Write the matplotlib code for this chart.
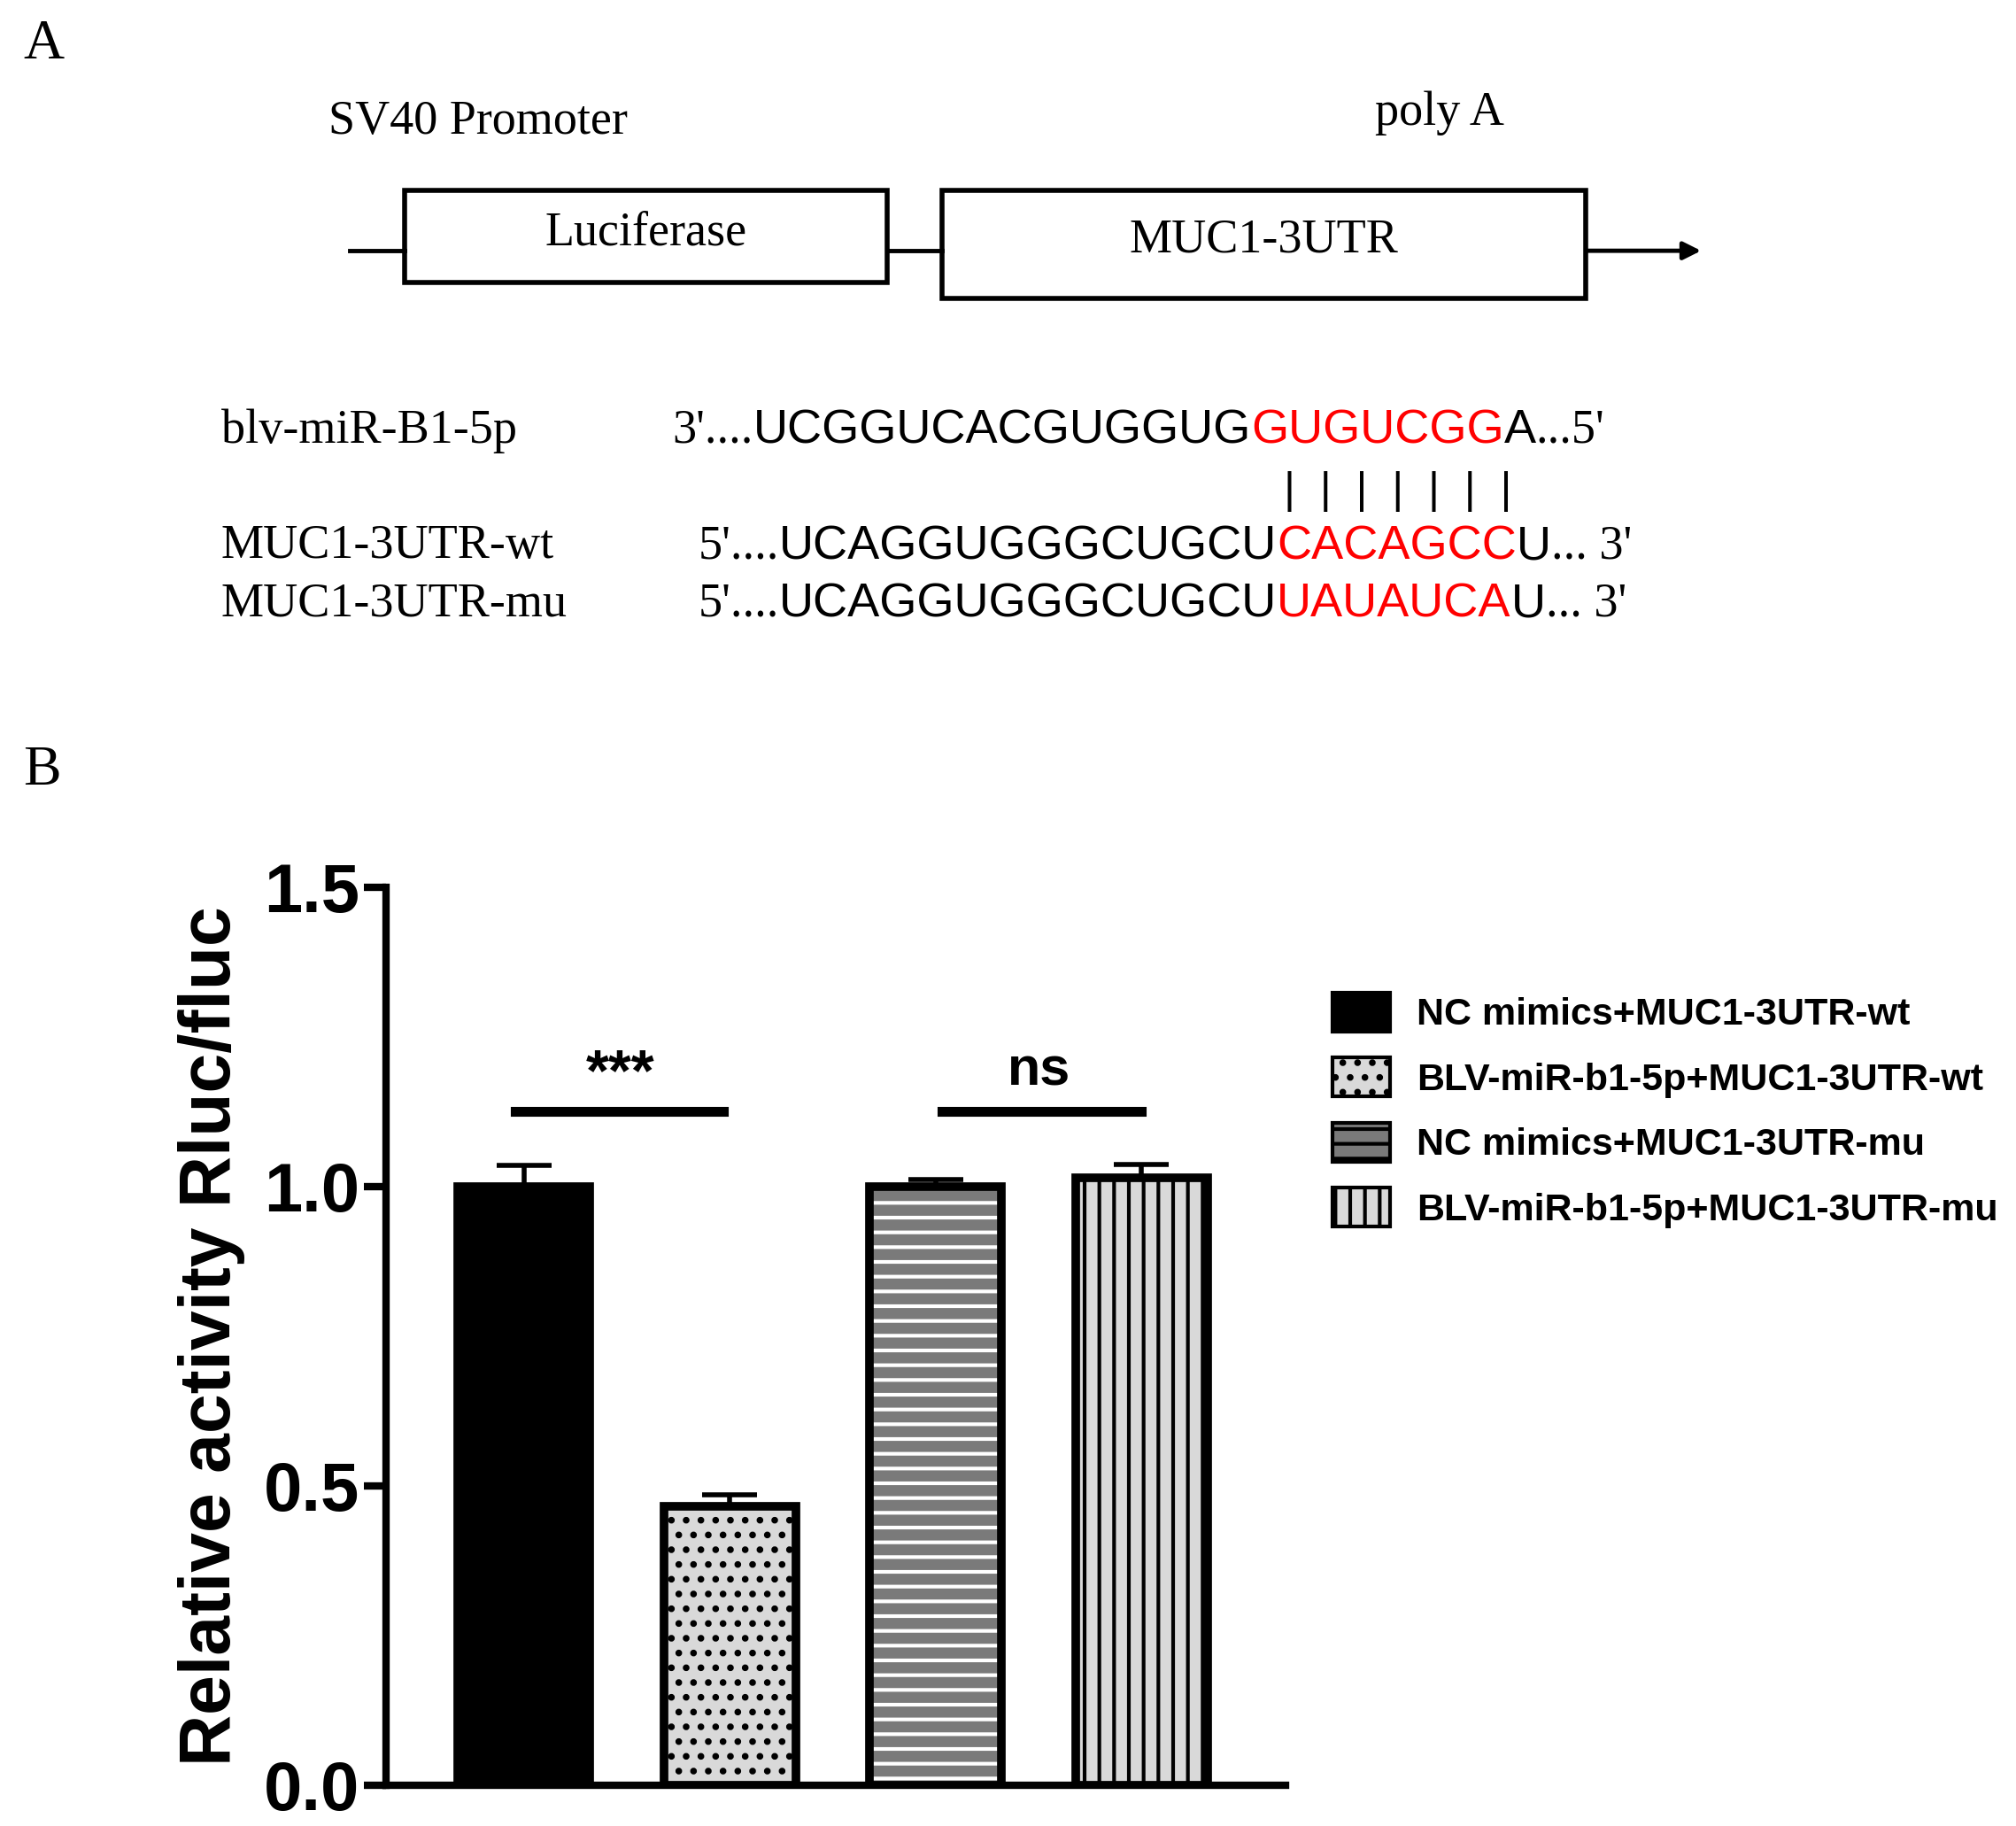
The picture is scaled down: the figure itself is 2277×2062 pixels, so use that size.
import matplotlib
matplotlib.use("Agg")
import matplotlib.pyplot as plt
from matplotlib.patches import Rectangle, FancyArrowPatch

W, H = 1568.0, 1420.0  # layout units (reference scaled)

groups = ["NC mimics+MUC1-3UTR-wt", "BLV-miR-b1-5p+MUC1-3UTR-wt",
          "NC mimics+MUC1-3UTR-mu", "BLV-miR-b1-5p+MUC1-3UTR-mu"]
values = [1.0, 0.465, 1.0, 1.015]
errors = [0.035, 0.02, 0.012, 0.022]
fills = ["black", "#d9d9d9", "#7a7a7a", "#d9d9d9"]
hatches = [None, ".", "-", "|"]
hatch_cols = ["black", "black", "white", "black"]
yticks = [0.0, 0.5, 1.0, 1.5]

seq_rows = [
    ("blv-miR-B1-5p", 335, 523, [("3'....", "k", "serif"), ("UCGGUCACGUGGUG", "k", "sans"),
                                ("GUGUCGG", "red", "sans"), ("A", "k", "sans"), ("...5'", "k", "serif")]),
    ("MUC1-3UTR-wt", 425, 543, [("5'....", "k", "serif"), ("UCAGGUGGGCUGCU", "k", "sans"),
                               ("CACAGCC", "red", "sans"), ("U", "k", "sans"), ("... 3'", "k", "serif")]),
    ("MUC1-3UTR-mu", 470, 543, [("5'....", "k", "serif"), ("UCAGGUGGGCUGCU", "k", "sans"),
                               ("UAUAUCA", "red", "sans"), ("U", "k", "sans"), ("... 3'", "k", "serif")]),
]

plt.rcParams["hatch.linewidth"] = 3
fig = plt.figure(figsize=(22.77, 20.62), dpi=100)
serif = "Liberation Serif"
sans = "Liberation Sans"

def fx(x): return x / W
def fy(y): return 1 - y / H

# panel A
fig.text(fx(18), fy(35), "A", fontsize=46, family=serif, va="center")
fig.text(fx(372), fy(95), "SV40 Promoter", fontsize=39, family=serif, ha="center", va="center")
fig.text(fx(1120), fy(88), "poly A", fontsize=39, family=serif, ha="center", va="center")
for x0, x1, y0, y1, lab in [(315, 690, 148, 220, "Luciferase"), (733, 1233, 148, 232, "MUC1-3UTR")]:
    fig.add_artist(Rectangle((fx(x0), fy(y1)), fx(x1 - x0), (y1 - y0) / H, fill=False,
                             lw=4, ec="black", transform=fig.transFigure))
    fig.text(fx((x0 + x1) / 2), fy((y0 + y1) / 2 - 3), lab, fontsize=39, family=serif,
             ha="center", va="center")
fig.add_artist(plt.Line2D([fx(272), fx(315)], [fy(195)] * 2, lw=3.5, color="k"))
fig.add_artist(plt.Line2D([fx(690), fx(733)], [fy(195)] * 2, lw=3.5, color="k"))
fig.add_artist(FancyArrowPatch((fx(1233), fy(195)), (fx(1325), fy(195)), transform=fig.transFigure,
                               arrowstyle="-|>", mutation_scale=30, lw=3.5, color="k"))

fig.canvas.draw()
r = fig.canvas.get_renderer()
for name, y, xs, parts in seq_rows:
    fig.text(fx(172), fy(y), name, fontsize=39, family=serif, va="center")
    x = fx(xs)
    for s, c, fam in parts:
        t = fig.text(x, fy(y), s, fontsize=39, color=c, family=serif if fam == "serif" else sans,
                     va="center")
        bb = t.get_window_extent(renderer=r)
        x += bb.width / fig.bbox.width
fig.text(fx(1087), fy(382), "|  |  |  |  |  |  |", fontsize=36, family=sans, ha="center", va="center")

# panel B
fig.text(fx(18), fy(600), "B", fontsize=46, family=serif, va="center")
ax = fig.add_axes([fx(300), fy(1388), fx(700), 698 / H])
xs = list(range(len(values)))
for i in xs:
    ax.bar(i, values[i], 0.64, color=fills[i], hatch=hatches[i], edgecolor=hatch_cols[i], lw=0, zorder=2)
    ax.bar(i, values[i], 0.64, fill=False, edgecolor="black", lw=7, zorder=3)
    ax.errorbar(i, values[i], yerr=[[0], [errors[i]]], color="black", capsize=22,
                capthick=4, elinewidth=4, zorder=1)
ax.set_xlim(-0.67, 3.7)
ax.set_ylim(0, 1.5)
ax.set_yticks(yticks)
ax.set_yticklabels([f"{v:.1f}" for v in yticks], fontsize=56, fontweight="bold", family=sans)
ax.set_xticks([])
for s in ["top", "right"]:
    ax.spines[s].set_visible(False)
for s in ["left", "bottom"]:
    ax.spines[s].set_linewidth(6)
ax.tick_params(axis="y", width=6, length=18)
ax.set_ylabel("Relative activity Rluc/fluc", fontsize=58, fontweight="bold", family=sans, labelpad=15)
ax.plot([-0.04, 0.97], [1.125, 1.125], color="k", lw=8, clip_on=False)
ax.plot([2.03, 3.0], [1.125, 1.125], color="k", lw=8, clip_on=False)
ax.text(0.47, 1.14, "***", fontsize=48, fontweight="bold", ha="center", va="bottom", family=sans)
ax.text(2.5, 1.15, "ns", fontsize=44, fontweight="bold", ha="center", va="bottom", family=sans)

handles = [Rectangle((0, 0), 1, 1, fc=fills[i], hatch=hatches[i], ec="black", lw=3) for i in xs]
fig.legend(handles, groups, loc="upper left", bbox_to_anchor=(fx(1010), fy(745)), frameon=False,
           prop={"family": sans, "weight": "bold", "size": 31}, handlelength=1.5, handleheight=1.2,
           labelspacing=0.65, handletextpad=0.7)

fig.savefig("out.png", dpi=100)
